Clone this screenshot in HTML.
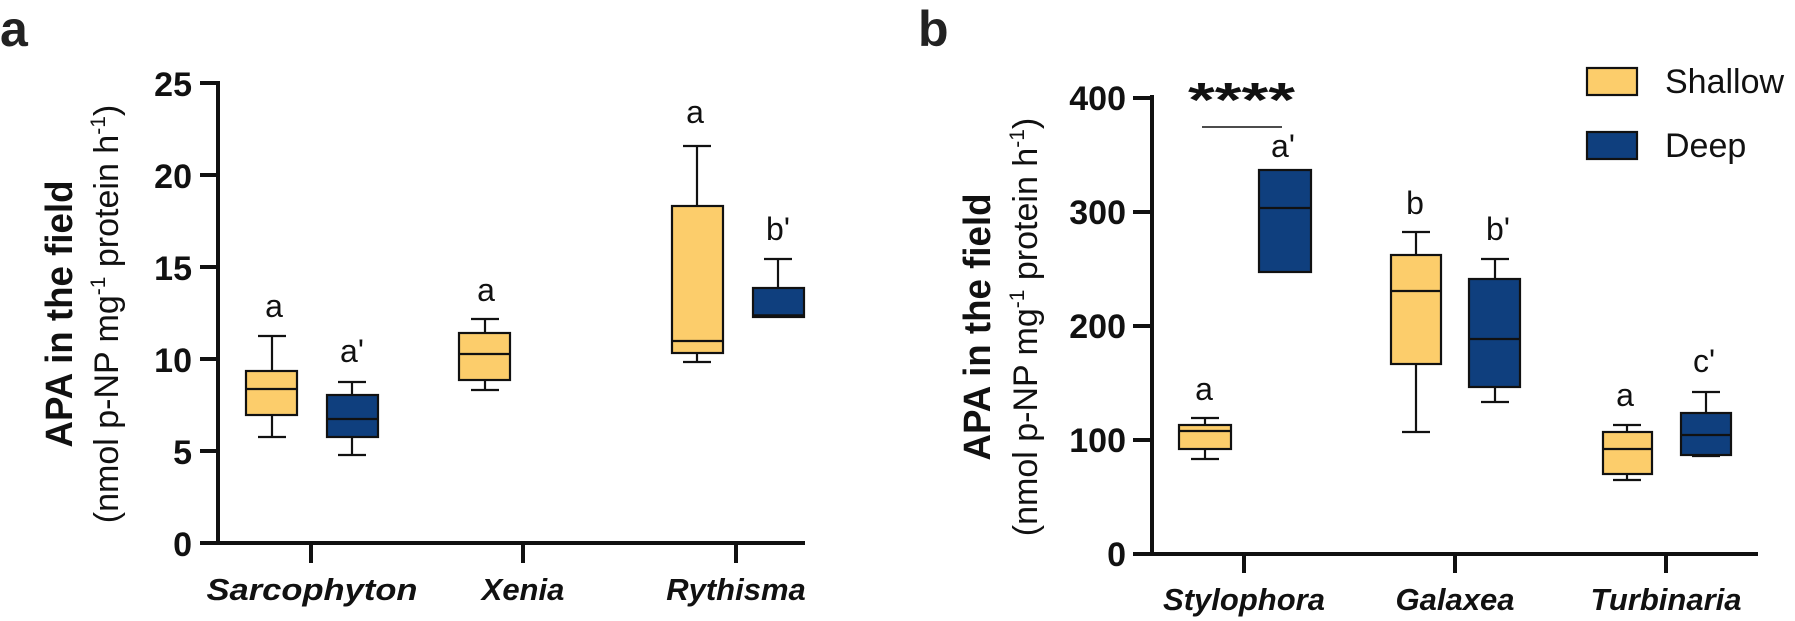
<!DOCTYPE html>
<html><head><meta charset="utf-8"><style>body{margin:0;background:#fff}svg{display:block}</style></head><body>
<svg width="1795" height="621" xmlns="http://www.w3.org/2000/svg" font-family="Liberation Sans, Arial, sans-serif">
<rect width="1795" height="621" fill="#fff"/>
<text x="0" y="46" font-size="50" font-weight="bold" fill="#222">a</text>
<text x="918" y="46" font-size="50" font-weight="bold" fill="#222">b</text>
<!-- Y titles -->
<g transform="translate(0,314) rotate(-90)" text-anchor="middle" fill="#111">
<text x="0" y="72" font-size="38" font-weight="bold" textLength="267" lengthAdjust="spacingAndGlyphs">APA in the field</text>
<text x="0" y="118" font-size="34">(nmol p-NP mg<tspan font-size="21" dy="-13">-1</tspan><tspan dy="13"> protein h</tspan><tspan font-size="21" dy="-13">-1</tspan><tspan dy="13">)</tspan></text>
</g>
<g transform="translate(0,327) rotate(-90)" text-anchor="middle" fill="#111">
<text x="0" y="990" font-size="38" font-weight="bold" textLength="267" lengthAdjust="spacingAndGlyphs">APA in the field</text>
<text x="0" y="1037" font-size="34">(nmol p-NP mg<tspan font-size="21" dy="-13">-1</tspan><tspan dy="13"> protein h</tspan><tspan font-size="21" dy="-13">-1</tspan><tspan dy="13">)</tspan></text>
</g>
<!-- Panel a axes -->
<g stroke="#111" stroke-width="4" fill="none">
<line x1="218" y1="81" x2="218" y2="545"/>
<line x1="200" y1="543" x2="805" y2="543"/>
<line x1="200" y1="83" x2="218" y2="83"/><line x1="200" y1="175" x2="218" y2="175"/><line x1="200" y1="267" x2="218" y2="267"/><line x1="200" y1="359" x2="218" y2="359"/><line x1="200" y1="451" x2="218" y2="451"/>
<line x1="311" y1="543" x2="311" y2="563"/><line x1="523" y1="543" x2="523" y2="563"/><line x1="736" y1="543" x2="736" y2="563"/>
</g>
<g font-size="34" font-weight="bold" text-anchor="end" fill="#111">
<text x="192" y="96">25</text><text x="192" y="188">20</text><text x="192" y="280">15</text><text x="192" y="372">10</text><text x="192" y="464">5</text><text x="192" y="556">0</text>
</g>
<g font-size="31" font-weight="bold" font-style="italic" text-anchor="middle" fill="#111">
<text x="312" y="600" textLength="211" lengthAdjust="spacingAndGlyphs">Sarcophyton</text><text x="523" y="600">Xenia</text><text x="736" y="600">Rythisma</text>
</g>
<!-- Panel a boxes -->
<g stroke="#111" stroke-width="2.2">
<line x1="272" y1="336" x2="272" y2="437"/><line x1="258" y1="336" x2="286" y2="336"/><line x1="258" y1="437" x2="286" y2="437"/>
<rect x="246" y="371" width="51" height="44" fill="#FCCD6B"/><line x1="246" y1="389" x2="297" y2="389"/>
<line x1="352" y1="382" x2="352" y2="455"/><line x1="338" y1="382" x2="366" y2="382"/><line x1="338" y1="455" x2="366" y2="455"/>
<rect x="327" y="395" width="51" height="42" fill="#0F3F7E"/><line x1="327" y1="419" x2="378" y2="419"/>
<line x1="485" y1="319" x2="485" y2="390"/><line x1="471" y1="319" x2="499" y2="319"/><line x1="471" y1="390" x2="499" y2="390"/>
<rect x="459" y="333" width="51" height="47" fill="#FCCD6B"/><line x1="459" y1="354" x2="510" y2="354"/>
<line x1="697" y1="146" x2="697" y2="362"/><line x1="683" y1="146" x2="711" y2="146"/><line x1="683" y1="362" x2="711" y2="362"/>
<rect x="672" y="206" width="51" height="147" fill="#FCCD6B"/><line x1="672" y1="341" x2="723" y2="341"/>
<line x1="778" y1="259" x2="778" y2="288"/><line x1="764" y1="259" x2="792" y2="259"/>
<rect x="753" y="288" width="51" height="29" fill="#0F3F7E"/><line x1="753" y1="316" x2="804" y2="316" stroke-width="3.5"/>
</g>
<g font-size="32" text-anchor="middle" fill="#111">
<text x="274" y="317">a</text><text x="352" y="362">a'</text><text x="486" y="301">a</text><text x="695" y="123">a</text><text x="778" y="240">b'</text>
</g>
<!-- Panel b axes -->
<g stroke="#111" stroke-width="4" fill="none">
<line x1="1152" y1="95" x2="1152" y2="556"/>
<line x1="1133" y1="554" x2="1758" y2="554"/>
<line x1="1133" y1="98" x2="1152" y2="98"/><line x1="1133" y1="212" x2="1152" y2="212"/><line x1="1133" y1="326" x2="1152" y2="326"/><line x1="1133" y1="440" x2="1152" y2="440"/>
<line x1="1244" y1="554" x2="1244" y2="573"/><line x1="1455" y1="554" x2="1455" y2="573"/><line x1="1666" y1="554" x2="1666" y2="573"/>
</g>
<g font-size="34" font-weight="bold" text-anchor="end" fill="#111">
<text x="1126" y="110">400</text><text x="1126" y="224">300</text><text x="1126" y="338">200</text><text x="1126" y="452">100</text><text x="1126" y="566">0</text>
</g>
<g font-size="31" font-weight="bold" font-style="italic" text-anchor="middle" fill="#111">
<text x="1244" y="610">Stylophora</text><text x="1455" y="610">Galaxea</text><text x="1666" y="610">Turbinaria</text>
</g>
<g stroke="#111" stroke-width="2.2">
<line x1="1205" y1="418" x2="1205" y2="459"/><line x1="1191" y1="418" x2="1219" y2="418"/><line x1="1191" y1="459" x2="1219" y2="459"/>
<rect x="1179" y="425" width="52" height="24" fill="#FCCD6B"/><line x1="1179" y1="431" x2="1231" y2="431"/>
<rect x="1259" y="170" width="52" height="102" fill="#0F3F7E"/><line x1="1259" y1="208" x2="1311" y2="208"/>
<line x1="1416" y1="232" x2="1416" y2="432"/><line x1="1402" y1="232" x2="1430" y2="232"/><line x1="1402" y1="432" x2="1430" y2="432"/>
<rect x="1391" y="255" width="50" height="109" fill="#FCCD6B"/><line x1="1391" y1="291" x2="1441" y2="291"/>
<line x1="1495" y1="259" x2="1495" y2="402"/><line x1="1481" y1="259" x2="1509" y2="259"/><line x1="1481" y1="402" x2="1509" y2="402"/>
<rect x="1469" y="279" width="51" height="108" fill="#0F3F7E"/><line x1="1469" y1="339" x2="1520" y2="339"/>
<line x1="1627" y1="425" x2="1627" y2="480"/><line x1="1613" y1="425" x2="1641" y2="425"/><line x1="1613" y1="480" x2="1641" y2="480"/>
<rect x="1603" y="432" width="49" height="42" fill="#FCCD6B"/><line x1="1603" y1="449" x2="1652" y2="449"/>
<line x1="1706" y1="392" x2="1706" y2="413"/><line x1="1692" y1="392" x2="1720" y2="392"/>
<rect x="1681" y="413" width="50" height="42" fill="#0F3F7E"/><line x1="1681" y1="435" x2="1731" y2="435"/><line x1="1692" y1="456" x2="1720" y2="456"/>
<line x1="1202" y1="127" x2="1282" y2="127" stroke-width="1.5"/>
<rect x="1587" y="68" width="50" height="27" fill="#FCCD6B"/>
<rect x="1587" y="132" width="50" height="27" fill="#0F3F7E"/>
</g>
<text x="1188" y="116" font-size="48" font-weight="bold" textLength="107" lengthAdjust="spacingAndGlyphs" fill="#111">****</text>
<g font-size="32" text-anchor="middle" fill="#111">
<text x="1204" y="400">a</text><text x="1283" y="157">a'</text><text x="1415" y="214">b</text><text x="1498" y="240">b'</text><text x="1625" y="406">a</text><text x="1704" y="372">c'</text>
</g>
<g font-size="34" fill="#111">
<text x="1665" y="93">Shallow</text><text x="1665" y="157">Deep</text>
</g>
</svg>
</body></html>
